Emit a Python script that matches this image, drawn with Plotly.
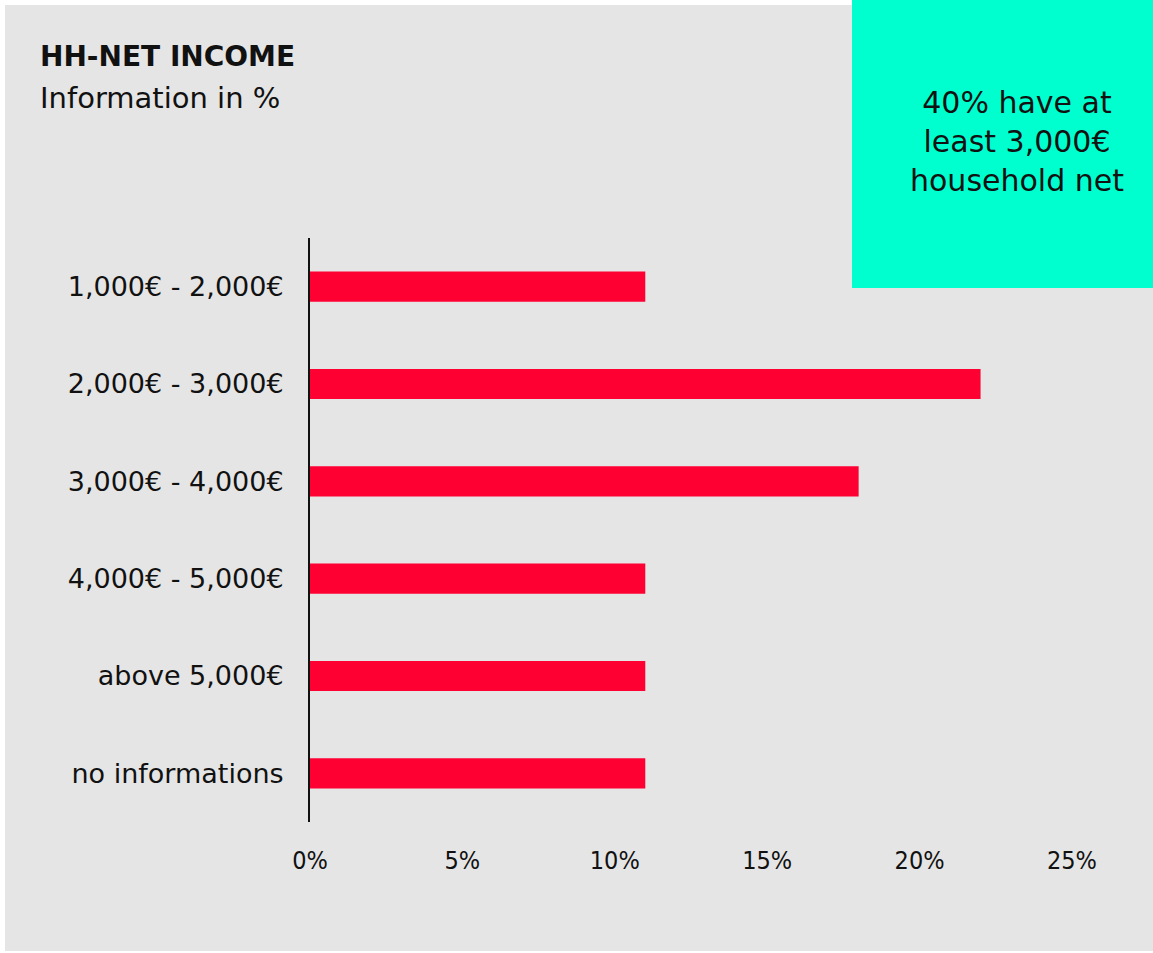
import plotly.graph_objects as go

categories = ["1,000€ - 2,000€", "2,000€ - 3,000€", "3,000€ - 4,000€",
              "4,000€ - 5,000€", "above 5,000€", "no informations"]
values = [11, 22, 18, 11, 11, 11]
x_ticks = [0, 5, 10, 15, 20, 25]
x_tick_labels = ["0%", "5%", "10%", "15%", "20%", "25%"]

title = "HH-NET INCOME"
subtitle = "Information in %"
callout = "40% have at<br>least 3,000€<br>household net"

FONT = "DejaVu Sans"
W, H = 1153, 953
L, R, T, B = 310, 1072, 238, 822

def fx(px):
    return (px - L) / (R - L)

def fy(py):
    return 1 - (py - T) / (B - T)

fig = go.Figure(go.Bar(
    x=values, y=categories, orientation="h",
    marker=dict(color="#FF0033", line=dict(width=0)),
    width=0.31, hoverinfo="skip",
))

fig.update_layout(
    width=W, height=H,
    margin=dict(l=L, r=W - R, t=T, b=H - B, pad=0),
    paper_bgcolor="white",
    plot_bgcolor="#E5E5E5",
    showlegend=False,
    font=dict(family=FONT, color="#111111"),
    shapes=[
        dict(type="rect", xref="paper", yref="paper", layer="below",
             x0=fx(5), x1=fx(1153), y0=fy(951), y1=fy(5),
             fillcolor="#E5E5E5", line=dict(width=0)),
        dict(type="rect", xref="paper", yref="paper", layer="above",
             x0=fx(852), x1=fx(1153), y0=fy(288), y1=fy(0),
             fillcolor="#00FFCF", line=dict(width=0)),
    ],
    annotations=[
        dict(text="<b>" + title + "</b>", xref="paper", yref="paper",
             x=fx(38), y=fy(56), xanchor="left", yanchor="middle",
             showarrow=False, font=dict(size=28, family=FONT, color="#111111")),
        dict(text=subtitle, xref="paper", yref="paper",
             x=fx(38), y=fy(98), xanchor="left", yanchor="middle",
             showarrow=False, font=dict(size=29, family=FONT, color="#111111")),
        dict(text=callout, xref="paper", yref="paper",
             x=fx(1017), y=fy(141), xanchor="center", yanchor="middle",
             align="center", showarrow=False,
             font=dict(size=30, family=FONT, color="#111111")),
    ],
)

fig.update_xaxes(
    range=[0, 25], tickvals=x_ticks, ticktext=x_tick_labels,
    showgrid=False, zeroline=False, showline=False, ticks="",
    tickfont=dict(size=25, family="DejaVu Sans Condensed", color="#111111"),
    ticklabelstandoff=21, fixedrange=True,
)
fig.update_yaxes(
    autorange="reversed", showgrid=False, zeroline=False,
    showline=True, linecolor="#111111", linewidth=2, ticks="",
    tickfont=dict(size=27, family=FONT, color="#111111"),
    ticklabelstandoff=19, fixedrange=True,
)

fig.write_html(
    "out.html",
    config={"displayModeBar": False},
    post_script="document.body.style.margin='0';document.body.style.overflow='hidden';",
)
